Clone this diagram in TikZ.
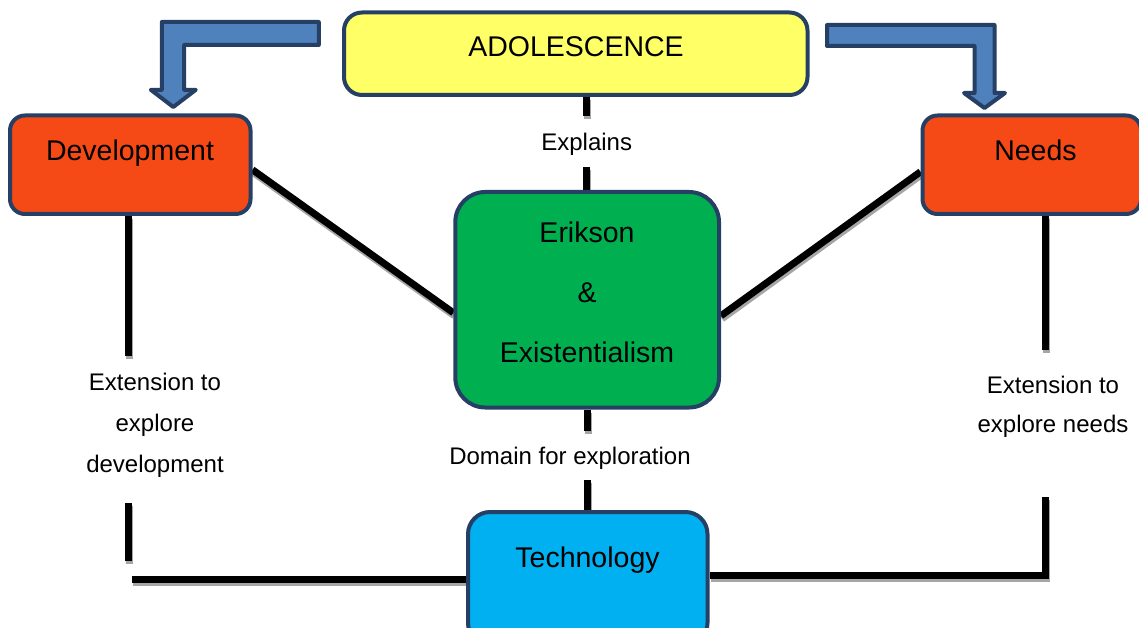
\documentclass[tikz,border=0pt]{standalone}
\usepackage{fontspec}
\setmainfont{Liberation Sans}
\definecolor{navy}{HTML}{263F64}
\definecolor{adoyellow}{HTML}{FFFF66}
\definecolor{devorange}{HTML}{F64A16}
\definecolor{erikgreen}{HTML}{00B050}
\definecolor{techblue}{HTML}{00B0F0}
\definecolor{arrowblue}{HTML}{4F81BD}
\definecolor{shadowgray}{HTML}{A6A6A6}
\pgfdeclarelayer{bg}
\pgfsetlayers{bg,main}
\begin{document}
\begin{tikzpicture}[x=1pt,y=-1pt,
  box/.style={draw=navy, line width=4pt, rounded corners=#1, inner sep=0pt},
  bigtxt/.style={font=\fontsize{28.5}{34}\selectfont, inner sep=0pt},
  smalltxt/.style={font=\fontsize{24}{#1}\selectfont, inner sep=0pt, align=center},
  conn/.style={line width=7pt, black,
    preaction={draw=shadowgray, line width=7pt, transform canvas={xshift=1pt,yshift=-3pt}}},
  blockarrow/.style={draw=navy, fill=arrowblue, line width=4pt, line join=round}]
\useasboundingbox (0,0) rectangle (1139,628);
\clip (0,0) rectangle (1139,628);
% boxes
\node[box=18pt, fill=adoyellow, minimum width=463.5pt, minimum height=82.5pt] (ado) at (575.75,53.75) {};
\node[box=15pt, fill=devorange, minimum width=240.5pt, minimum height=98.5pt] (dev) at (130.25,164.75) {};
\node[box=15pt, fill=devorange, minimum width=218.5pt, minimum height=98.5pt] (needs) at (1031.75,164.75) {};
\node[box=30pt, fill=erikgreen, minimum width=263.7pt, minimum height=215.5pt] (erik) at (587.15,299.75) {};
\node[box=22pt, fill=techblue, minimum width=239.5pt, minimum height=133pt] (tech) at (587.75,578.5) {};
% texts in boxes
\node[bigtxt, anchor=base] (adotxt) at (576,57) {ADOLESCENCE};
\node[bigtxt, anchor=base] (devtxt) at (130,160.5) {Development};
\node[bigtxt, anchor=base] (needstxt) at (1035.5,160.5) {Needs};
\node[font=\fontsize{28.5}{60}\selectfont, inner sep=0pt, align=center] (eriktxt) at (587,292) {Erikson\\\&\\Existentialism};
\node[bigtxt, anchor=base] (techtxt) at (587.5,567) {Technology};
% connector labels
\node[smalltxt=29, anchor=base, text height=35pt, text depth=16pt, inner sep=0pt] (expl) at (586.7,151) {Explains};
\node[smalltxt=29, anchor=base, text height=33pt, text depth=16pt, inner sep=0pt] (domain) at (570,464) {Domain for exploration};
\node[smalltxt=41] (devlbl) at (155,425) {Extension to\\explore\\development};
\node[smalltxt=39] (needslbl) at (1053,406.5) {Extension to\\explore needs};
% free ends
\coordinate (dA) at (128,356);
\coordinate (dB) at (128,503);
\coordinate (dC) at (128,561);
\coordinate (dD) at (132,579);
\coordinate (nA) at (1045,350);
\coordinate (nB) at (1045,497);
\coordinate (nC) at (1045,575.5);
\begin{pgfonlayer}{bg}
\draw[conn] (ado.south -| expl.center) -- (expl.north);
\draw[conn] (expl.south) -- (erik.north -| expl.center);
\draw[conn] (erik.south -| tech.north) -- (domain.north -| tech.north);
\draw[conn] (domain.south -| tech.north) -- (tech.north);
\draw[conn] ([yshift=-5pt]dev.east) -- ([yshift=-13pt]erik.west);
\draw[conn] ([yshift=-7pt]needs.west) -- ([yshift=-16pt]erik.east);
\draw[conn] (dev.south -| dA) -- (dA);
\draw[conn] (dB) -- (dC);
\draw[conn] (dD) -- (tech.west |- dD);
\draw[conn] (needs.south -| nA) -- (nA);
\draw[conn] (nB) -- (nC) -- (tech.east |- nC);
\end{pgfonlayer}
% block arrows
\draw[blockarrow] (318.8,22) -- (161.8,22) -- (161.8,89.8) -- (150.8,89.8) -- (173.3,107) -- (195.8,89.8) -- (184.2,89.8) -- (184.2,45) -- (318.8,45) -- cycle;
\draw[blockarrow] (827,25) -- (994.5,25) -- (994.5,93) -- (1005,93) -- (984.5,108) -- (964,93) -- (974.5,93) -- (974.5,46) -- (827,46) -- cycle;
\end{tikzpicture}
\end{document}
